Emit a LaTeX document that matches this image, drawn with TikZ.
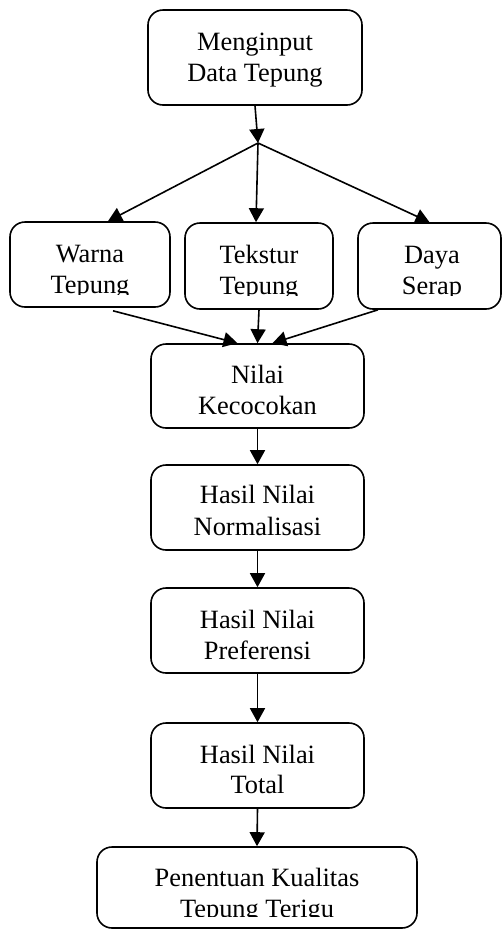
\documentclass[tikz,border=0pt]{standalone}
\usepackage{fontspec}
\setmainfont{Liberation Serif}
\usetikzlibrary{arrows.meta}
\begin{document}
\begin{tikzpicture}[x=1pt,y=-1pt,
  box/.style={draw=black,line width=1.6pt,rounded corners=15pt,inner sep=0pt},
  txt/.style={inner sep=0pt,anchor=base,font=\fontsize{26.4pt}{31pt}\selectfont},
  arr/.style={line width=1.6pt,-{Triangle[width=15pt,length=14pt]}}]
\useasboundingbox (0,0) rectangle (502,930);
% boxes
\node[box,minimum width=214pt,minimum height=95pt] (top) at (255,57.5) {};
\node[box,minimum width=160pt,minimum height=85pt] (warna) at (90,264.5) {};
\node[box,minimum width=148pt,minimum height=86pt] (tekstur) at (259,266) {};
\node[box,minimum width=143pt,minimum height=86pt] (daya) at (429.5,266) {};
\node[box,minimum width=213pt,minimum height=84pt] (nilai) at (257.5,386) {};
\node[box,minimum width=213pt,minimum height=85pt] (norm) at (257.5,507.5) {};
\node[box,minimum width=213pt,minimum height=85pt] (pref) at (257.5,630.5) {};
\node[box,minimum width=213pt,minimum height=85pt] (total) at (257.5,765.5) {};
\node[box,minimum width=320pt,minimum height=81pt] (final) at (257,887.5) {};
% texts
\node[txt] (topa) at (255,50) {Menginput};
\node[txt] (topb) at (255,81) {Data Tepung};
\node[txt] (warnaa) at (90,262.5) {Warna};
\node[txt] (teksturtxt) at (259,263.5) {Tekstur};
\node[txt] (dayaa) at (432,263.5) {Daya};
\node[txt] (nilaia) at (257.5,383.3) {Nilai};
\node[txt] (norma) at (257.5,503.3) {Hasil Nilai};
\node[txt] (normb) at (257.5,535) {Normalisasi};
\node[txt] (prefa) at (257.5,628) {Hasil Nilai};
\node[txt] (prefb) at (257.5,659) {Preferensi};
\node[txt] (totala) at (257.5,763) {Hasil Nilai};
\node[txt] (totalb) at (257.5,793) {Total};
\node[txt] (finala) at (257,886.7) {Penentuan Kualitas};
% clipped second lines
\begin{scope}
\clip (12,270) rectangle (168,294.5);
\node[txt] (warnab) at (90,293.5) {Tepung};
\end{scope}
\begin{scope}
\clip (187,270) rectangle (331,295);
\node[txt] (teksturb) at (259,294.5) {Tepung};
\end{scope}
\begin{scope}
\clip (360,270) rectangle (500,295);
\node[txt] (dayab) at (432,294.5) {Serap};
\end{scope}
\begin{scope}
\clip (153,390) rectangle (362,414);
\node[txt] (nilaib) at (257.5,414.3) {Kecocokan};
\end{scope}
\begin{scope}
\clip (99,890) rectangle (415,916);
\node[txt] (finalb) at (257,917.7) {Tepung Terigu};
\end{scope}
% connectors
\coordinate (J) at (258,143);
\draw[arr] (top.south) -- (J);
\draw[arr] (J) -- ([xshift=18pt]warna.north);
\draw[arr] (J) -- ([xshift=-3pt]tekstur.north);
\draw[arr] (J) -- (daya.north);
\draw[arr] ([xshift=23pt,yshift=-3pt]warna.south) -- ([xshift=-20pt]nilai.north);
\draw[arr] (tekstur.south) -- (nilai.north);
\draw[arr] ([xshift=-51.5pt]daya.south) -- ([xshift=15pt]nilai.north);
\draw[arr] (nilai.south) -- (norm.north);
\draw[arr] (norm.south) -- (pref.north);
\draw[arr] (pref.south) -- (total.north);
\draw[arr] (total.south) -- (final.north);
\end{tikzpicture}
\end{document}
